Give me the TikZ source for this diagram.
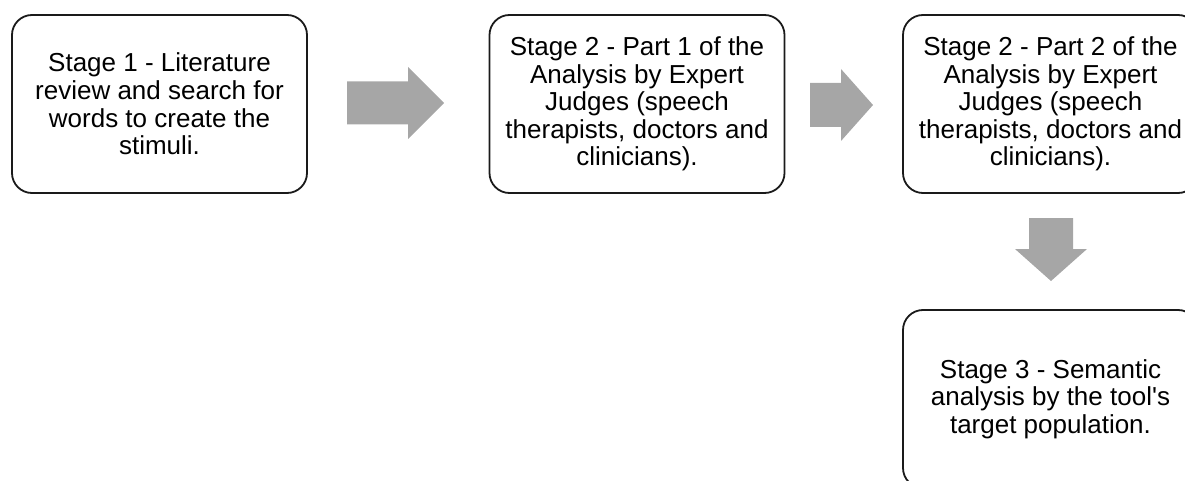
\documentclass[tikz,border=0pt]{standalone}
\usepackage{fontspec}
\setmainfont{Liberation Sans}[Ligatures=TeXOff]
\definecolor{arrowgray}{HTML}{A6A6A6}
\definecolor{edgeblack}{HTML}{1A1A1A}
\begin{document}
\begin{tikzpicture}[x=1pt,y=-1pt,
  stagebox/.style={draw=edgeblack, line width=1.8pt, rounded corners=20pt,
    minimum width=295pt, minimum height=178pt, align=center,
    font=\fontsize{26pt}{27.6pt}\selectfont, inner sep=0pt},
  blockarrow/.style={fill=arrowgray, draw=none}]
\useasboundingbox (0,0) rectangle (1185,481);
\clip (0,0) rectangle (1185,481);
\node[stagebox] (s1) at (159.5,104) {Stage 1 - Literature\\review and search for\\words to create the\\stimuli.};
\node[stagebox] (s2) at (637,104) {Stage 2 - Part 1 of the\\Analysis by Expert\\Judges (speech\\therapists, doctors and\\clinicians).};
\node[stagebox] (s3) at (1050.5,104) {Stage 2 - Part 2 of the\\Analysis by Expert\\Judges (speech\\therapists, doctors and\\clinicians).};
\node[stagebox] (s4) at (1050.5,399) {Stage 3 - Semantic\\analysis by the tool's\\target population.};
% arrow 1
\fill[blockarrow] (347,81.5) -- (408,81.5) -- (408,67) -- (444,103) -- (408,139) -- (408,124.5) -- (347,124.5) -- cycle;
% arrow 2
\fill[blockarrow] (810,83) -- (841,83) -- (841,69) -- (873,105) -- (841,141) -- (841,127) -- (810,127) -- cycle;
% arrow 3
\fill[blockarrow] (1029,218) -- (1073,218) -- (1073,249) -- (1087,249) -- (1051,281) -- (1015,249) -- (1029,249) -- cycle;
\end{tikzpicture}
\end{document}
